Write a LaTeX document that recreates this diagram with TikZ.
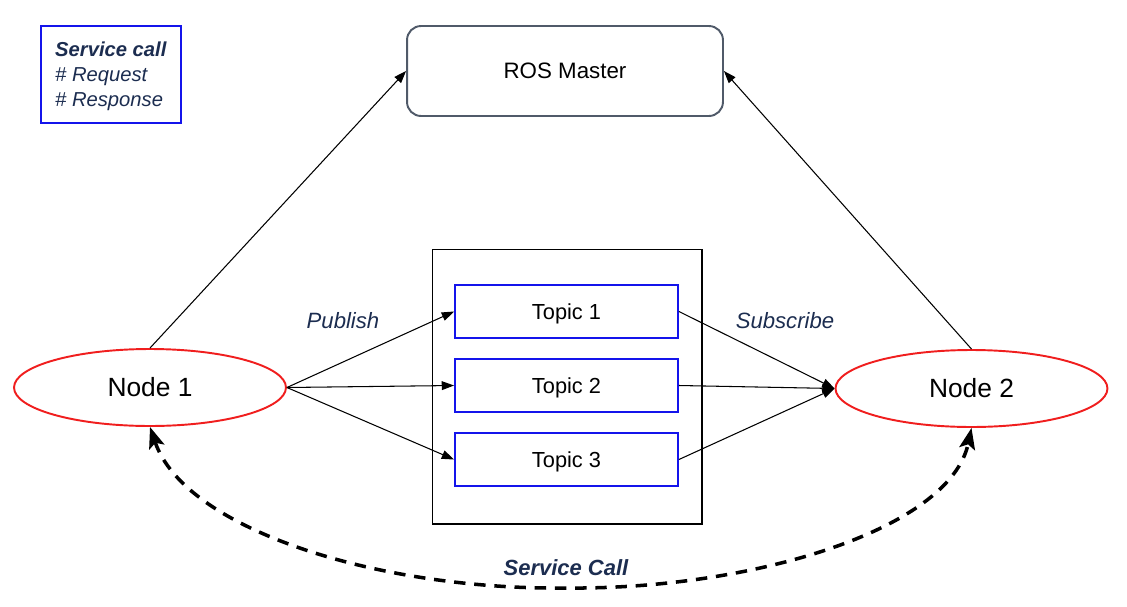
\documentclass[tikz,border=0pt]{standalone}
\usepackage{fontspec}
\setmainfont{Liberation Sans}
\usepackage{tikz}
\usetikzlibrary{shapes.geometric, arrows.meta}
\definecolor{navytext}{RGB}{28,45,80}
\definecolor{mastergray}{RGB}{80,90,105}
\definecolor{nodered}{RGB}{240,30,30}
\definecolor{topicblue}{RGB}{20,20,235}
\tikzstyle{master} = [rectangle, rounded corners=8pt, minimum width=6.32cm, minimum height=1.8cm, text centered, draw=mastergray, line width=1.1pt, font=\fontsize{12.7}{15}\selectfont]
\tikzstyle{topic} = [rectangle, minimum width=4.46cm, minimum height=1.06cm, text depth=0pt, text centered, draw=topicblue, line width=1.1pt, font=\fontsize{12.4}{15}\selectfont]
\tikzstyle{rosnode} = [ellipse, minimum width=5.44cm, minimum height=1.54cm, inner sep=0pt, text centered, draw=nodered, line width=1.1pt, font=\fontsize{15}{18}\selectfont]
\tikzstyle{label} = [text=navytext, font=\fontsize{12.6}{15}\selectfont\itshape]
\tikzstyle{arrow} = [line width=0.6pt, -{Triangle[length=7pt, width=5pt]}]
\tikzstyle{service} = [line width=2pt, dash pattern=on 6.5pt off 5pt, {Stealth[length=12pt, width=9pt, inset=2.5pt]}-{Stealth[length=12pt, width=9pt, inset=2.5pt]}]

\begin{document}
\begin{tikzpicture}[x=0.02cm, y=-0.02cm]
    \useasboundingbox (0,0) rectangle (1127,606);
    % legend
    \node (legend) [rectangle, draw=topicblue, line width=0.6pt, minimum width=2.8cm, minimum height=1.94cm, text depth=0pt, align=left, text=navytext, font=\fontsize{11.5}{14.2}\selectfont] at (111,74.5) {\textbf{\textit{Service call}}\\ \textit{\# Request}\\ \textit{\# Response}};
    \node (ros) [master] at (565,71) {ROS Master};
    % topics
    \node (box) [rectangle, draw=black, line width=0.6pt, minimum width=5.4cm, minimum height=5.5cm] at (567,386.5) {};
    \node (t1) [topic] at (566.5,311.5) {Topic 1};
    \node (t2) [topic] at (566.5,385.5) {Topic 2};
    \node (t3) [topic] at (566.5,459.5) {Topic 3};
    % nodes
    \node (n1) [rosnode] at (150,387.5) {Node 1};
    \node (n2) [rosnode] at (971.5,388.5) {Node 2};
    \draw [arrow] (n1.north) -- (ros.west);
    \draw [arrow] (n2.north) -- (ros.east);
    \foreach \t in {t1,t2,t3} {
        \draw [arrow] (n1.east) -- (\t.west);
        \draw [arrow] (\t.east) -- (n2.west);
    }
    \node (pub) [label] at (343,321) {Publish};
    \node (sub) [label] at (785,321) {Subscribe};
    % service call
    \coordinate (low) at (565,588);
    \draw [service] (n1.south) .. controls (185,530) and (380,590) .. (low) .. controls (750,590) and (950,530) .. (n2.south);
    \node (srv) [label, font=\fontsize{12.5}{15}\selectfont\bfseries\itshape] at (566,568) {Service Call};
\end{tikzpicture}
\end{document}
